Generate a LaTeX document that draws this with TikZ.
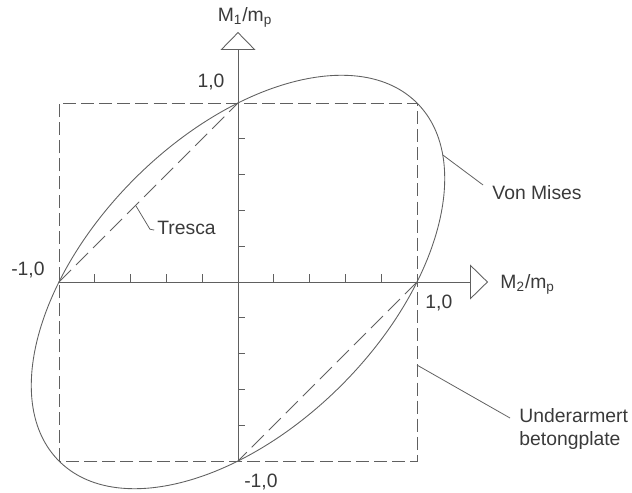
\documentclass[tikz,border=0pt]{standalone}
\usepackage{fontspec}
\setmainfont{Liberation Sans}
\usepackage{xcolor}
\usetikzlibrary{arrows.meta}

\definecolor{linegray}{HTML}{606060}
\definecolor{textgray}{HTML}{3A3A3A}

\begin{document}
\begin{tikzpicture}[x=3.58cm,y=3.58cm,
    line width=0.5pt,draw=linegray,
    every node/.style={text=textgray,font=\fontsize{11}{13.5}\selectfont,inner sep=0pt},
    dashline/.style={dash pattern=on 7.4pt off 2.9pt},
    trescaline/.style={dash pattern=on 9.7pt off 4pt},
    axisarrow/.style={-{Triangle[open,length=3.6mm,width=7mm,fill=white]}},
    leader/.style={line width=0.45pt}]
  \useasboundingbox (-1.3296,-1.1732) rectangle (2.2011,1.5754);
  \coordinate (O) at (0,0);
  \coordinate (xl) at (-1,0);
  \coordinate (xr) at (1,0);
  \coordinate (yt) at (0,1);
  \coordinate (yb) at (0,-1);
  \coordinate (xtip) at (1.397,0);
  \coordinate (ytip) at (0,1.397);
  % axes
  \draw[axisarrow] (xl) -- (xtip);
  \draw[axisarrow] (yb) -- (ytip);
  \foreach \t in {-0.8,-0.6,-0.4,-0.2,0.2,0.4,0.6,0.8} {
    \draw (\t,0) -- (\t,0.045);
    \draw (0,\t) -- (0.04,\t);}
  % reinforced slab square and Tresca
  \draw[dashline] (-1,-1) rectangle (1,1);
  \draw[trescaline] (xl) -- (yt);
  \draw[trescaline] (xr) -- (yb);
  % von Mises
  \draw[rotate=45] (O) ellipse ({sqrt(2)} and {sqrt(2/3)});
  % labels
  \node[anchor=east] (ltop) at (-0.073,1.117) {1,0};
  \node[anchor=east] (lleft) at (-1.078,0.067) {-1,0};
  \node[anchor=west] (lright) at (1.045,-0.117) {1,0};
  \node (lbot) at (0.128,-1.117) {-1,0};
  \node (m1) at (0.039,1.480) {M\textsubscript{1}/m\textsubscript{p}};
  \node[anchor=west] (m2) at (1.464,-0.011) {M\textsubscript{2}/m\textsubscript{p}};
  \node[anchor=west] (vm) at (1.419,0.497) {Von Mises};
  \node[anchor=west] (tr) at (-0.453,0.302) {Tresca};
  \node[anchor=west,align=left] (ub) at (1.570,-0.821) {Underarmert\\betongplate};
  % leaders
  \coordinate (vmA) at (1.145,0.709);
  \coordinate (vmB) at (1.369,0.542);
  \coordinate (trA) at (-0.570,0.425);
  \coordinate (trB) at (-0.492,0.295);
  \coordinate (trC) at (-0.468,0.290);
  \coordinate (ubA) at (1,-0.464);
  \coordinate (ubB) at (1.52,-0.760);
  \draw[leader] (vmA) -- (vmB);
  \draw[leader] (trA) -- (trB) -- (trC);
  \draw[leader] (ubA) -- (ubB);
\end{tikzpicture}
\end{document}
